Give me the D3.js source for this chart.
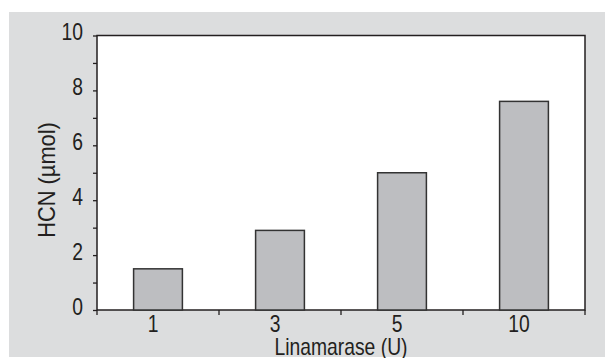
<!DOCTYPE html>
<html>
<head>
<meta charset="utf-8">
<script src="https://cdn.jsdelivr.net/npm/d3@7"></script>
<style>
  body { margin: 0; background: #fff; }
  text { font-family: "Liberation Sans", Arial, sans-serif; fill: #231f20; }
</style>
</head>
<body>
<div id="plot"></div>
<script>
// data
var categories = ['1', '3', '5', '10'];
var hcn = [1.5, 2.9, 5.0, 7.6];
var yTicks = [0, 2, 4, 6, 8, 10];
var yMinor = [1, 3, 5, 7, 9];

var W = 605, H = 358;
var margin = {t:35.5, r:20, b:48, l:97};
var width = W - margin.l - margin.r,
    height = H - margin.t - margin.b;
var squeeze = 0.84; // the original type is a condensed face
var fs = '23px';

var svg = d3.select('#plot')
    .append('svg')
    .attr('width', W)
    .attr('height', H);

// grey panel behind the chart
svg.append('rect')
    .attr('x', 9).attr('y', 12)
    .attr('width', W - 9).attr('height', 345)
    .style('fill', '#dcddde');

var plot = svg.append('g')
    .attr('transform', 'translate(' + margin.l + ',' + margin.t + ')');

var x = d3.scaleBand().domain(categories).range([0, width]).padding(0);
var y = d3.scaleLinear().domain([0, 10]).range([height, 0]);

plot.append('rect')
    .attr('width', width).attr('height', height)
    .style('fill', '#fff')
    .style('stroke', '#231f20')
    .style('stroke-width', 1.5);

var barW = x.bandwidth() * 0.4;
plot.selectAll('.bar')
    .data(hcn)
    .enter()
    .append('rect')
    .attr('class', 'bar')
    .attr('x', function(d, i){ return x(categories[i]) + (x.bandwidth() - barW) / 2; })
    .attr('y', function(d){ return y(d); })
    .attr('width', barW)
    .attr('height', function(d){ return height - y(d); })
    .style('fill', '#bdbec1')
    .style('stroke', '#333')
    .style('stroke-width', 1.5);

// y axis ticks (major + minor), labels drawn separately
var yAxis = plot.append('g')
    .call(d3.axisLeft(y).tickValues(yTicks.concat(yMinor)).tickSize(4).tickFormat(''));
yAxis.select('.domain').remove();
yAxis.selectAll('line').style('stroke', '#231f20').style('stroke-width', 1.3);

plot.selectAll('.ylabel')
    .data(yTicks)
    .enter()
    .append('text')
    .attr('transform', function(d){ return 'translate(-14,' + (y(d) + 4.5) + ') scale(' + squeeze + ',1)'; })
    .attr('text-anchor', 'end')
    .style('font-size', fs)
    .text(function(d){ return d; });

// x axis: ticks at band edges, labels near centres
var edges = categories.map(function(c){ return x(c); }).concat([width]);
plot.selectAll('.xtick')
    .data(edges)
    .enter()
    .append('line')
    .attr('x1', function(d){ return d; })
    .attr('x2', function(d){ return d; })
    .attr('y1', height)
    .attr('y2', height + 5)
    .style('stroke', '#231f20')
    .style('stroke-width', 1.3);

plot.selectAll('.xlabel')
    .data(categories)
    .enter()
    .append('text')
    .attr('transform', function(d){ return 'translate(' + (x(d) + x.bandwidth() / 2 - 5) + ',' + (height + 22) + ') scale(' + squeeze + ',1)'; })
    .attr('text-anchor', 'middle')
    .style('font-size', fs)
    .text(function(d){ return d; });

plot.append('text')
    .attr('transform', 'translate(' + (width / 2) + ',' + (height + 44.5) + ') scale(' + squeeze + ',1)')
    .attr('text-anchor', 'middle')
    .style('font-size', fs)
    .text('Linamarase (U)');

svg.append('text')
    .attr('transform', 'translate(55,180) rotate(-90) scale(0.95,1)')
    .attr('text-anchor', 'middle')
    .style('font-size', fs)
    .text('HCN (µmol)');
</script>
</body>
</html>
